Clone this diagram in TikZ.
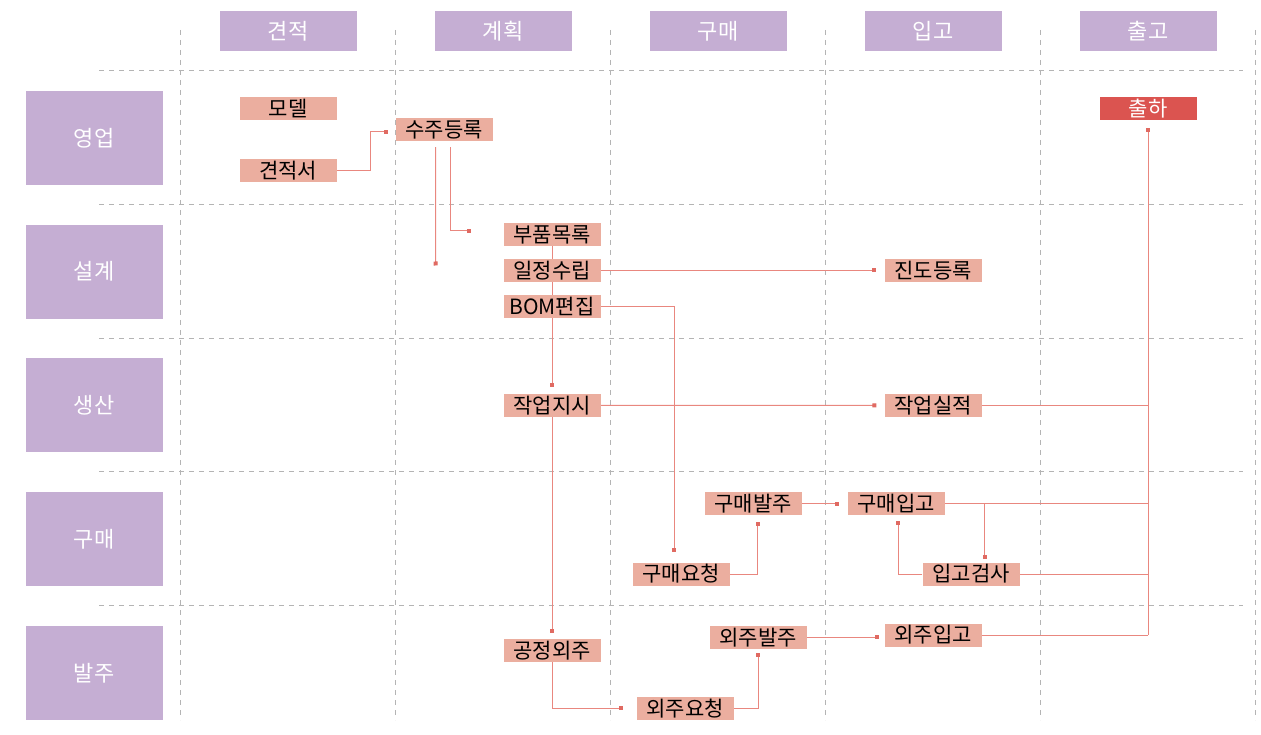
\documentclass[tikz,border=0pt]{standalone}
\usepackage{fontspec}
\setmainfont{Noto Sans CJK KR}
\usetikzlibrary{arrows.meta,backgrounds}
\definecolor{hdrcol}{HTML}{C5AED3}
\definecolor{boxcol}{HTML}{EBAE9F}
\definecolor{linecol}{HTML}{E9877F}
\definecolor{dotcol}{HTML}{E06A62}
\definecolor{shipcol}{HTML}{DB5450}
\definecolor{gridcol}{HTML}{B4B4B4}

\begin{document}
\begin{tikzpicture}[x=1pt,y=-1pt,
  lanegrid/.style={gridcol, line width=1pt, dash pattern=on 5pt off 5pt},
  colhead/.style={fill=hdrcol, text=white, minimum width=137pt, minimum height=40pt, inner sep=0pt, font=\fontsize{22}{22}\selectfont},
  rowhead/.style={colhead, minimum height=94pt},
  task/.style={fill=boxcol, minimum width=97pt, minimum height=23pt, inner sep=0pt, font=\fontsize{21}{21}\selectfont},
  shipbox/.style={task, fill=shipcol, text=white},
  wire/.style={linecol, line width=1pt},
  flow/.style={wire, -{Square[length=4pt,width=4pt,color=dotcol]}}]
  \useasboundingbox (0,0) rectangle (1261,735);

  \foreach \txt [count=\i] in {견적,계획,구매,입고,출고}
    \node[colhead] (col\i) at (73+215*\i,30.8) {\txt};
  \foreach \txt [count=\i] in {영업,설계,생산,구매,발주}
    \node[rowhead] (row\i) at (94,4.2+133.75*\i) {\txt};

  \node[task] (model) at (288,108.5) {모델};
  \node[task] (estdoc) at (288,170.5) {견적서};
  \node[task] (order) at (444,129.5) {수주등록};
  \node[task] (parts) at (552,234.5) {부품목록};
  \node[task] (plan) at (552,270.3) {일정수립};
  \node[task] (bom) at (552,306.3) {BOM편집};
  \node[task] (progress) at (933,270.3) {진도등록};
  \node[task] (workord) at (552,405.3) {작업지시};
  \node[task] (workres) at (933,405.5) {작업실적};
  \node[task] (porder) at (753,503.5) {구매발주};
  \node[task] (pin) at (896,503.5) {구매입고};
  \node[task] (preq) at (681,574) {구매요청};
  \node[task] (inspect) at (971,574) {입고검사};
  \node[task] (process) at (552,650.3) {공정외주};
  \node[task] (oorder) at (758,637.3) {외주발주};
  \node[task] (oin) at (933,635) {외주입고};
  \node[task] (oreq) at (685,708.3) {외주요청};
  \node[shipbox] (shipout) at (1148,108.5) {출하};

  \coordinate (planmark) at (435.7,265.5);
  \coordinate (partsmark) at (470.7,231);
  \coordinate (branch) at ([xshift=13.6pt]inspect.north);

  \begin{scope}[on background layer]
    \foreach \x in {180,395,...,1255}
      \draw[lanegrid] (\x,30) -- (\x,720);
    \foreach \y in {0,...,4}
      \draw[lanegrid] (99,70.7+133.75*\y) -- (1243,70.7+133.75*\y);

    \draw[flow, shorten >=7pt] (estdoc.east) -- ++(34,0) |- ([yshift=-2.5pt]order.west);
    \draw[flow] ([xshift=-8.5pt,yshift=-6pt]order.south) -- (planmark);
    \draw[flow] ([xshift=6pt,yshift=-6pt]order.south) |- (partsmark);
    \draw[flow, shorten >=7pt] (parts.south) -- (workord.north);
    \draw[flow, shorten >=8pt] (plan.east) -- (progress.west);
    \draw[flow, shorten >=10pt] (bom.east) -| ([xshift=-7pt]preq.north);
    \draw[flow, shorten >=8pt] (workord.east) -- (workres.west);
    \draw[flow, shorten >=6pt] (workord.south) -- (process.north);
    \draw[flow, shorten >=13pt] (process.south) |- (oreq.west);
    \draw[flow, shorten >=4pt] (oreq.east) -| (oorder.south);
    \draw[flow, shorten >=5pt] (oorder.east) -- (oorder.east -| oin.west);
    \draw[flow, shorten >=7pt] (preq.east) -| ([xshift=4.5pt]porder.south);
    \draw[flow, shorten >=8pt] (porder.east) -- (pin.west);
    \draw[flow, shorten >=3pt] (branch |- pin.east) -- (branch);
    \draw[flow, shorten >=6pt] (inspect.west) -| ([xshift=2pt]pin.south);
    \draw[wire] (workres.east) -- (workres.east -| shipout.south);
    \draw[wire] (pin.east) -- (pin.east -| shipout.south);
    \draw[wire] (inspect.east) -- (inspect.east -| shipout.south);
    \draw[wire] (oin.east) -- (oin.east -| shipout.south);
    \draw[flow, shorten >=8pt] (oin.east -| shipout.south) -- (shipout.south);
  \end{scope}
\end{tikzpicture}
\end{document}
